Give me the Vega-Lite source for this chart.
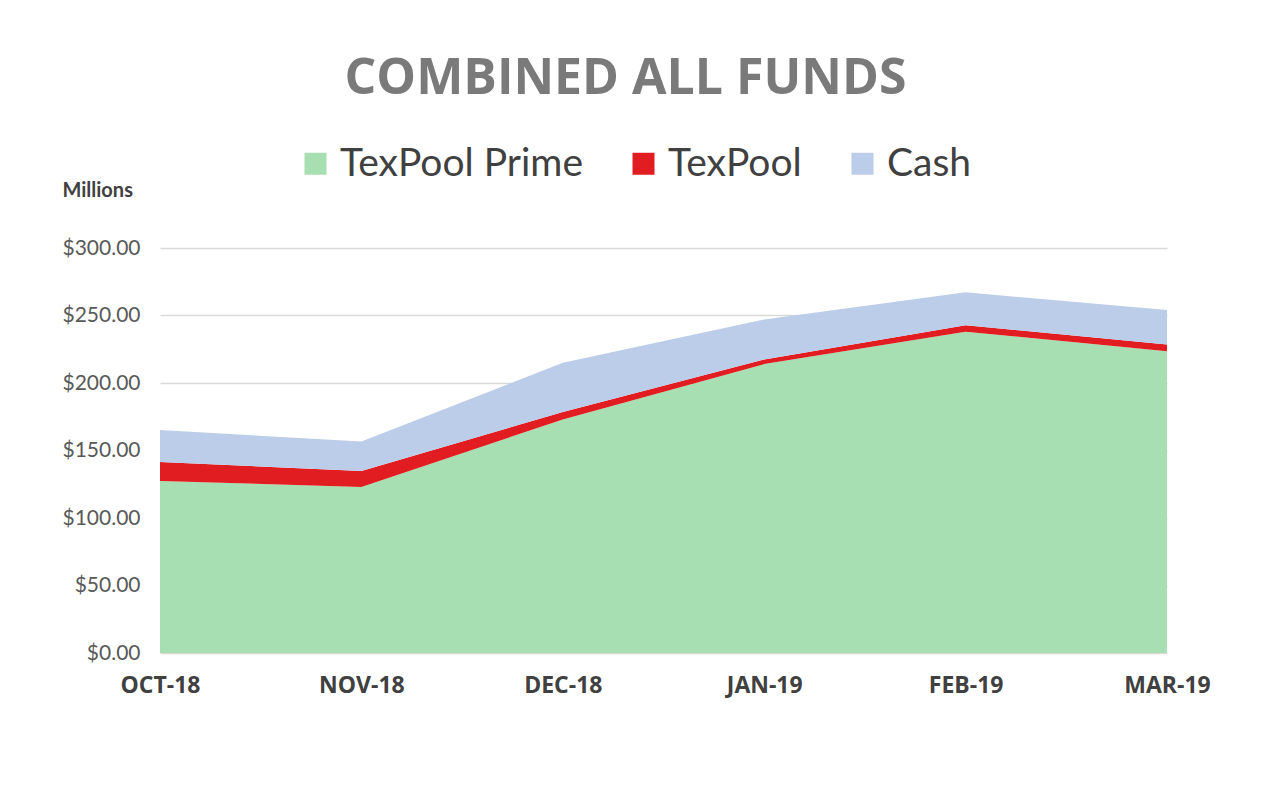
{
  "$schema": "https://vega.github.io/schema/vega-lite/v6.json",
  "width": 1007,
  "height": 405,
  "autosize": {"type": "none"},
  "padding": {"left": 160, "top": 248, "right": 104, "bottom": 141},
  "background": "white",
  "title": {
    "text": "COMBINED  ALL FUNDS",
    "font": "Open Sans",
    "fontWeight": "bold",
    "fontSize": 50,
    "color": "#7a7a7a",
    "anchor": "middle",
    "frame": "group",
    "dx": -38,
    "offset": 40
  },
  "data": {
    "values": [
      {"month": "OCT-18", "series": "TexPool Prime", "value": 127.4},
      {"month": "OCT-18", "series": "TexPool", "value": 14.1},
      {"month": "OCT-18", "series": "Cash", "value": 23.7},
      {"month": "NOV-18", "series": "TexPool Prime", "value": 123.0},
      {"month": "NOV-18", "series": "TexPool", "value": 11.8},
      {"month": "NOV-18", "series": "Cash", "value": 21.8},
      {"month": "DEC-18", "series": "TexPool Prime", "value": 173.0},
      {"month": "DEC-18", "series": "TexPool", "value": 5.5},
      {"month": "DEC-18", "series": "Cash", "value": 36.5},
      {"month": "JAN-19", "series": "TexPool Prime", "value": 214.0},
      {"month": "JAN-19", "series": "TexPool", "value": 3.5},
      {"month": "JAN-19", "series": "Cash", "value": 29.5},
      {"month": "FEB-19", "series": "TexPool Prime", "value": 238.0},
      {"month": "FEB-19", "series": "TexPool", "value": 4.8},
      {"month": "FEB-19", "series": "Cash", "value": 24.4},
      {"month": "MAR-19", "series": "TexPool Prime", "value": 223.6},
      {"month": "MAR-19", "series": "TexPool", "value": 4.9},
      {"month": "MAR-19", "series": "Cash", "value": 25.5}
    ]
  },
  "mark": {"type": "area", "interpolate": "linear"},
  "encoding": {
    "x": {
      "field": "month",
      "type": "ordinal",
      "sort": null,
      "scale": {"type": "point", "padding": 0},
      "axis": {
        "title": null,
        "labelAngle": 0,
        "labelFont": "Open Sans",
        "labelFontWeight": "bold",
        "labelFontSize": 23,
        "labelColor": "#404040",
        "labelPadding": 21,
        "ticks": false,
        "domain": false,
        "grid": false
      }
    },
    "y": {
      "field": "value",
      "type": "quantitative",
      "stack": "zero",
      "scale": {"domain": [0, 300]},
      "axis": {
        "values": [0, 50, 100, 150, 200, 250, 300],
        "format": "$,.2f",
        "labelFont": "Lato",
        "labelFontSize": 21,
        "labelColor": "#595959",
        "labelPadding": 20,
        "ticks": false,
        "domain": false,
        "gridColor": "#d9d9d9",
        "gridWidth": 1.5,
        "title": "Millions",
        "titleFont": "Lato",
        "titleFontWeight": "bold",
        "titleFontSize": 20,
        "titleColor": "#404040",
        "titleAngle": 0,
        "titleAlign": "left",
        "titleBaseline": "middle",
        "titleX": -98,
        "titleY": -58
      }
    },
    "color": {
      "field": "series",
      "type": "nominal",
      "scale": {
        "domain": ["TexPool Prime", "TexPool", "Cash"],
        "range": ["#a8dfb2", "#e11d22", "#bccde9"]
      },
      "legend": {
        "title": null,
        "orient": "none",
        "direction": "horizontal",
        "legendX": 136,
        "legendY": -104,
        "symbolType": "square",
        "symbolSize": 484,
        "symbolStrokeWidth": 0,
        "labelFont": "Lato",
        "labelFontSize": 39,
        "labelColor": "#404040",
        "labelOffset": 5,
        "labelLimit": 500,
        "columnPadding": 41,
        "symbolOpacity": 1
      }
    },
    "order": {"field": "series", "sort": "descending"}
  },
  "config": {
    "view": {"stroke": null}
  }
}
